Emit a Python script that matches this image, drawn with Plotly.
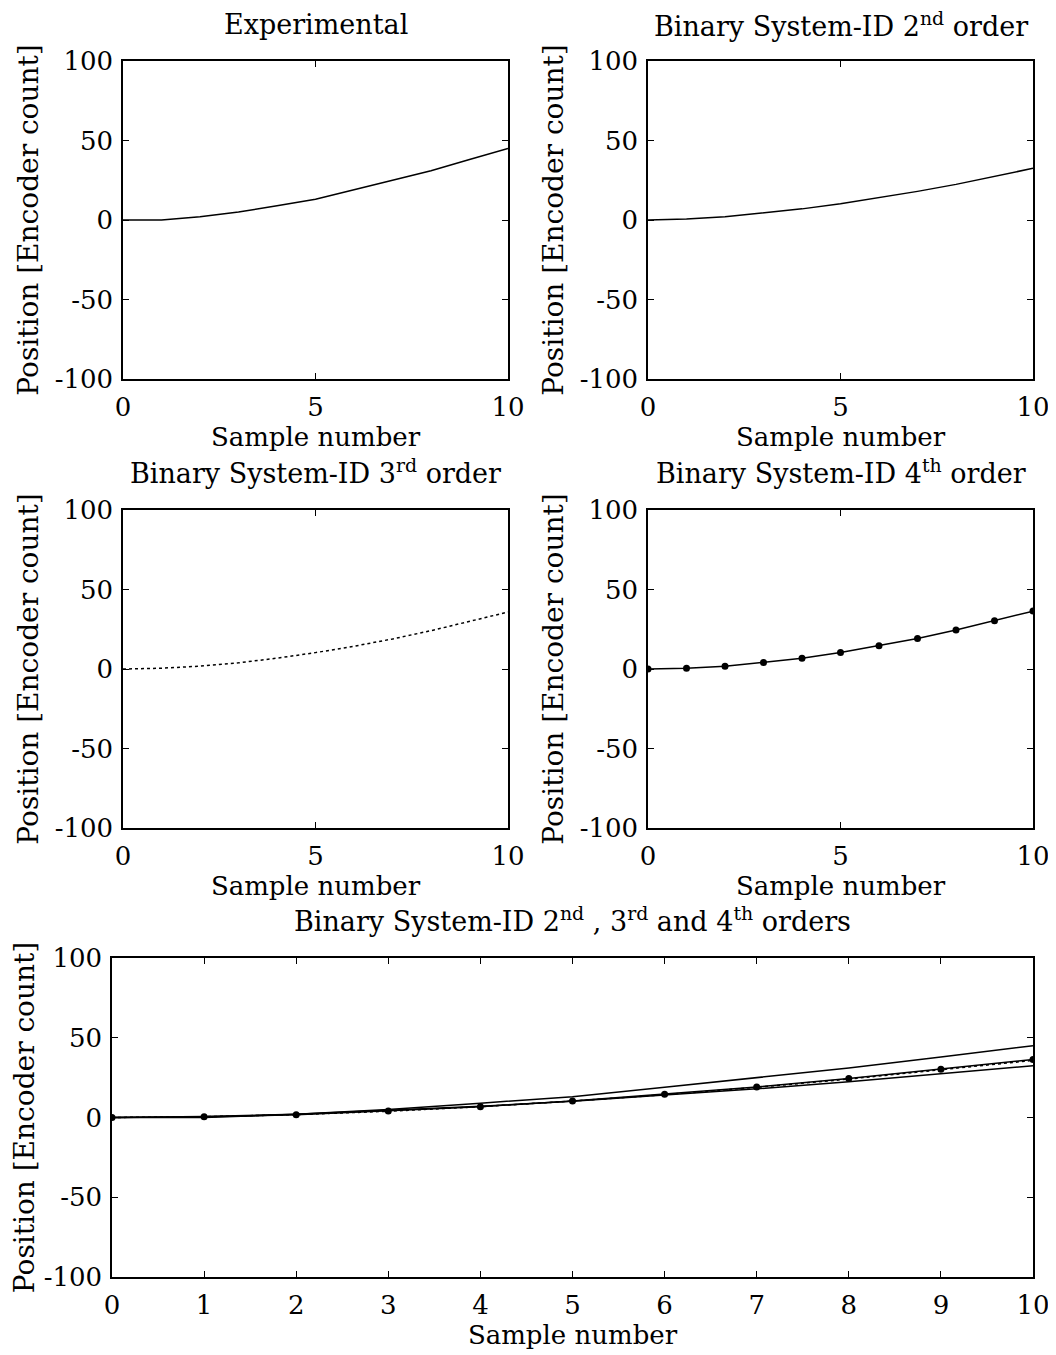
import plotly.graph_objects as go

# ---------------- data ----------------
samples = [0, 1, 2, 3, 4, 5, 6, 7, 8, 9, 10]
experimental = [0, 0, 2, 5, 9, 13, 19, 25, 31, 38, 45]
order2 = [0, 0.7, 2.0, 4.3, 7.0, 10.2, 13.9, 18.0, 22.4, 27.3, 32.5]
order3 = [0, 0.5, 1.8, 3.9, 6.8, 10.3, 14.3, 18.9, 24.1, 30.0, 35.8]
order4 = [0, 0.4, 1.7, 4.1, 6.8, 10.4, 14.6, 19.2, 24.5, 30.3, 36.4]

y_tickvals = [-100, -50, 0, 50, 100]
y_ticktext = ["-100", "-50", "0", "50", "100"]
x_tickvals_small = [0, 5, 10]
x_tickvals_big = [0, 1, 2, 3, 4, 5, 6, 7, 8, 9, 10]

titles = [
    "Experimental",
    "Binary System-ID 2<sup>nd</sup> order",
    "Binary System-ID 3<sup>rd</sup> order",
    "Binary System-ID 4<sup>th</sup> order",
    "Binary System-ID 2<sup>nd</sup> , 3<sup>rd</sup> and 4<sup>th</sup> orders",
]
x_title = "Sample number"
y_title = "Position [Encoder count]"

# ---------------- layout geometry ----------------
OFF = 8  # page body margin
W, H = 1056 - OFF, 1355 - OFF
FONT = "DejaVu Serif, Liberation Serif, serif"
FS_TICK = 26
FS_TITLE = 27
FS_XT = 26
FS_YT = 28

def px_x(a, b):
    return [(a - OFF) / W, (b - OFF) / W]

def px_y(top, bottom):
    return [1 - (bottom - OFF) / H, 1 - (top - OFF) / H]

domains = [
    (px_x(123, 508), px_y(61, 379)),
    (px_x(648, 1033), px_y(61, 379)),
    (px_x(123, 508), px_y(510, 828)),
    (px_x(648, 1033), px_y(510, 828)),
    (px_x(112, 1033), px_y(958, 1277)),
]
title_y = [24, 24, 471, 471, 919]

fig = go.Figure()
line = dict(color="black", width=1.5)

def add(trace, i):
    n = "" if i == 0 else str(i + 1)
    trace.xaxis = "x" + n
    trace.yaxis = "y" + n
    fig.add_trace(trace)

add(go.Scatter(x=samples, y=experimental, mode="lines", line=line), 0)
add(go.Scatter(x=samples, y=order2, mode="lines", line=line), 1)
add(go.Scatter(x=samples, y=order3, mode="lines",
               line=dict(color="black", width=1.5, dash="dot")), 2)
add(go.Scatter(x=samples, y=order4, mode="lines+markers", line=line,
               marker=dict(color="black", size=7)), 3)
add(go.Scatter(x=samples, y=experimental, mode="lines", line=line), 4)
add(go.Scatter(x=samples, y=order2, mode="lines", line=line), 4)
add(go.Scatter(x=samples, y=order3, mode="lines",
               line=dict(color="black", width=1.5, dash="dot")), 4)
add(go.Scatter(x=samples, y=order4, mode="lines+markers", line=line,
               marker=dict(color="black", size=7)), 4)

layout = dict(
    width=W, height=H,
    margin=dict(l=0, r=0, t=0, b=0, autoexpand=False),
    paper_bgcolor="white", plot_bgcolor="white",
    showlegend=False,
    font=dict(family=FONT, size=FS_TICK, color="black"),
)
annotations = []
for i, (dx, dy) in enumerate(domains):
    n = "" if i == 0 else str(i + 1)
    xt = x_tickvals_big if i == 4 else x_tickvals_small
    common = dict(showline=True, linecolor="black", linewidth=1.5, mirror="ticks",
                  ticks="inside", ticklen=6, tickcolor="black", tickwidth=1.2,
                  showgrid=False, zeroline=False, automargin=False,
                  ticklabeloverflow="allow",
                  tickfont=dict(family=FONT, size=FS_TICK, color="black"))
    layout["xaxis" + n] = dict(
        domain=dx, anchor="y" + n, range=[0, 10], tickvals=xt,
        ticktext=[str(v) for v in xt], ticklabelstandoff=4,
        title=dict(text=x_title, standoff=0, font=dict(family=FONT, size=FS_XT)),
        **common)
    layout["yaxis" + n] = dict(
        domain=dy, anchor="x" + n, range=[-100, 100], tickvals=y_tickvals,
        ticktext=y_ticktext, ticklabelstandoff=3,
        title=dict(text=y_title, standoff=8, font=dict(family=FONT, size=FS_YT)),
        **common)
    annotations.append(dict(
        text=titles[i], xref="paper", yref="paper",
        x=(dx[0] + dx[1]) / 2, y=1 - (title_y[i] - OFF) / H,
        xanchor="center", yanchor="middle", showarrow=False,
        font=dict(family=FONT, size=FS_TITLE, color="black")))
layout["annotations"] = annotations
fig.update_layout(**layout)

fig.write_html("out.html")
